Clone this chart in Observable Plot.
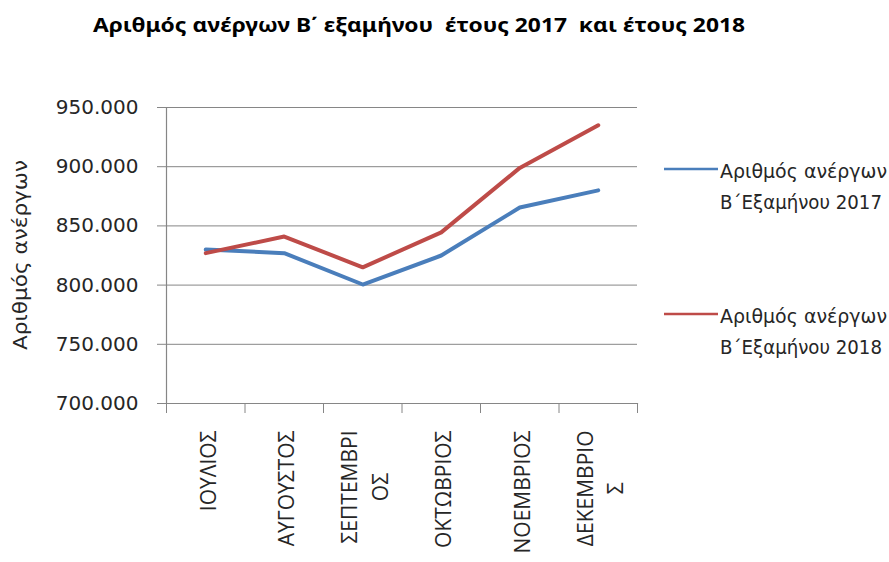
<!DOCTYPE html>
<html>
<head>
<meta charset="utf-8">
<script src="https://cdn.jsdelivr.net/npm/d3@7"></script>
<script src="https://cdn.jsdelivr.net/npm/@observablehq/plot@0.6"></script>
<style>
  body { margin: 0; background: #fff; }
  #wrap { position: relative; width: 889px; height: 562px; overflow: hidden; }
  #wrap > svg { position: absolute; left: 0; top: 0; }
  #overlay { pointer-events: none; }
</style>
</head>
<body>
<div id="wrap"></div>
<script>
const titleText = "Αριθμός ανέργων Β΄ εξαμήνου  έτους 2017  και έτους 2018";
const yAxisTitle = "Αριθμός ανέργων";
const months = ["ΙΟΥΛΙΟΣ", "ΑΥΓΟΥΣΤΟΣ", "ΣΕΠΤΕΜΒΡΙΟΣ", "ΟΚΤΩΒΡΙΟΣ", "ΝΟΕΜΒΡΙΟΣ", "ΔΕΚΕΜΒΡΙΟΣ"];
const monthLabels = ["ΙΟΥΛΙΟΣ", "ΑΥΓΟΥΣΤΟΣ", "ΣΕΠΤΕΜΒΡΙ\nΟΣ", "ΟΚΤΩΒΡΙΟΣ", "ΝΟΕΜΒΡΙΟΣ", "ΔΕΚΕΜΒΡΙΟ\nΣ"];
const unemployed2017 = [830000, 827000, 800500, 825000, 865500, 880000];
const unemployed2018 = [827000, 841000, 815000, 844500, 899000, 935000];
const yTicks = [700000, 750000, 800000, 850000, 900000, 950000];
const seriesNames = [
  ["Αριθμός ανέργων", "Β΄Εξαμήνου 2017"],
  ["Αριθμός ανέργων", "Β΄Εξαμήνου 2018"]
];
const seriesColors = ["#4A7EBB", "#BE4B48"];

const gridColor = "#868686";
const labelFont = "21px 'Open Sans'";
const fmt = d => d3.format(",")(d).replace(/,/g, ".");
const idx = d3.range(months.length);
const boundaries = d3.range(-0.5, months.length, 1);
const rows = (vals) => vals.map((v, i) => ({i, v}));

// measure the longest line of each label so that lines are centred in a top-aligned block
const ctx = document.createElement("canvas").getContext("2d");
ctx.font = labelFont;
const halfLen = monthLabels.map(s => d3.max(s.split("\n"), l => ctx.measureText(l).width) / 2);

const labelMarks = idx.map(i => Plot.text([i], {
  x: d => d, frameAnchor: "bottom", text: d => monthLabels[d],
  rotate: -90, textAnchor: "middle", lineAnchor: "middle", lineHeight: 1.45,
  dy: 27 + halfLen[i], fontSize: 21, fontFamily: "Open Sans", fill: "#262626"
}));

const chart = Plot.plot({
  width: 889,
  height: 562,
  marginLeft: 166,
  marginRight: 252,
  marginTop: 107,
  marginBottom: 159,
  style: {background: "transparent", color: "#222"},
  x: {type: "linear", domain: [-0.5, months.length - 0.5], axis: null},
  y: {domain: [700000, 950000], axis: null},
  marks: [
    Plot.gridY(yTicks, {stroke: gridColor, strokeOpacity: 1, strokeWidth: 1}),
    Plot.frame({anchor: "left", stroke: gridColor, strokeWidth: 1.2}),
    Plot.frame({anchor: "bottom", stroke: gridColor, strokeWidth: 1.2}),
    Plot.axisY(yTicks, {
      tickSize: 9, tickPadding: 19, tickFormat: fmt, stroke: gridColor,
      fontSize: 20, fontFamily: "DejaVu Sans", fill: "#262626", label: null
    }),
    Plot.axisX(boundaries, {
      tickSize: 10, tickFormat: () => "", stroke: gridColor, label: null
    }),
    ...labelMarks,
    Plot.line(rows(unemployed2017), {x: "i", y: "v", stroke: seriesColors[0], strokeWidth: 4, strokeLinejoin: "round", strokeLinecap: "round"}),
    Plot.line(rows(unemployed2018), {x: "i", y: "v", stroke: seriesColors[1], strokeWidth: 4, strokeLinejoin: "round", strokeLinecap: "round"})
  ]
});

const wrap = document.getElementById("wrap");
wrap.appendChild(chart);

// Overlay: title, y-axis title, legend
const ov = d3.select(wrap).append("svg")
  .attr("id", "overlay")
  .attr("width", 889).attr("height", 562);

ov.append("text")
  .attr("x", 93).attr("y", 32)
  .attr("font-family", "Noto Sans").attr("font-weight", "bold").attr("font-size", 20)
  .attr("fill", "#000")
  .attr("textLength", 652).attr("lengthAdjust", "spacingAndGlyphs")
  .style("white-space", "pre")
  .text(titleText);

ov.append("text")
  .attr("transform", "translate(27,255) rotate(-90)")
  .attr("text-anchor", "middle")
  .attr("font-family", "DejaVu Sans").attr("font-size", 20)
  .attr("fill", "#262626")
  .attr("textLength", 190).attr("lengthAdjust", "spacingAndGlyphs")
  .text(yAxisTitle);

const legendY = [169, 314];
seriesNames.forEach((lines, k) => {
  const g = ov.append("g");
  g.append("line")
    .attr("x1", 664).attr("x2", 718)
    .attr("y1", legendY[k]).attr("y2", legendY[k])
    .attr("stroke", seriesColors[k]).attr("stroke-width", 2.5);
  lines.forEach((t, j) => {
    g.append("text")
      .attr("x", 720).attr("y", legendY[k] + 9 + j * 31)
      .attr("font-family", "DejaVu Sans").attr("font-size", 19)
      .attr("fill", "#262626")
      .attr("textLength", j === 0 ? 167 : 162).attr("lengthAdjust", "spacingAndGlyphs")
      .text(t);
  });
});
</script>
</body>
</html>
